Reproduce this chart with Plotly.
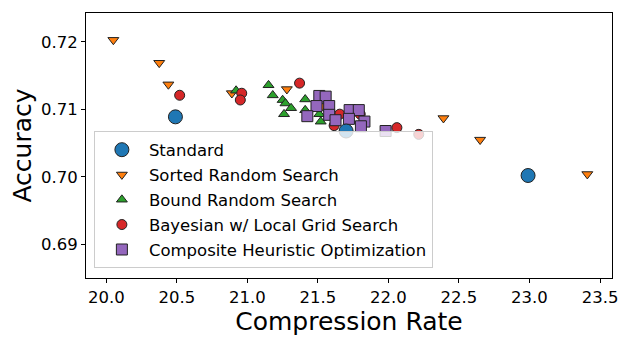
import plotly.graph_objects as go

# Compression rate / accuracy pairs
standard_x = [20.49, 21.70, 22.99]
standard_y = [0.7089, 0.7068, 0.7002]

sorted_x = [20.05, 20.375, 20.44, 20.89, 21.28, 21.53, 22.39, 22.65, 23.41]
sorted_y = [0.7203, 0.7169, 0.7137, 0.7124, 0.7130, 0.7105, 0.7087, 0.7055, 0.7004]

bound_x = [20.92, 21.15, 21.18, 21.25, 21.27, 21.31, 21.26, 21.41, 21.41, 21.51, 21.52]
bound_y = [0.7128, 0.7136, 0.7121, 0.7114, 0.7109, 0.7102, 0.7093, 0.7115, 0.7099, 0.7093, 0.7082]

bayes_x = [20.52, 20.96, 20.95, 21.37, 21.655, 21.615, 21.80, 22.06, 22.215]
bayes_y = [0.7121, 0.7124, 0.7114, 0.7139, 0.7093, 0.7076, 0.7093, 0.7073, 0.7063]

composite_x = [21.51, 21.555, 21.49, 21.58, 21.425, 21.58, 21.625, 21.725, 21.79,
               21.72, 21.83, 21.805, 21.98]
composite_y = [0.7120, 0.7119, 0.7105, 0.7105, 0.7090, 0.7092, 0.7084, 0.7099, 0.7099,
               0.7086, 0.7082, 0.7075, 0.7068]

FONT = 'DejaVu Sans'


def scatter(x, y, name, color, symbol, size, rank):
    # each trace gets its own legend group so tracegroupgap spaces the rows
    return go.Scatter(
        x=x,
        y=y,
        mode='markers',
        name=name,
        legendrank=rank,
        legendgroup=name,
        marker=dict(
            color=color,
            symbol=symbol,
            size=size,
            line=dict(color='#222222', width=1)
        )
    )


fig = go.Figure()
fig.add_trace(scatter(sorted_x, sorted_y, 'Sorted Random Search', '#ff7f0e', 'triangle-down', 9.5, 2))
fig.add_trace(scatter(bound_x, bound_y, 'Bound Random Search', '#2ca02c', 'triangle-up', 9.5, 3))
fig.add_trace(scatter(bayes_x, bayes_y, 'Bayesian w/ Local Grid Search', '#d62728', 'circle', 10, 4))
fig.add_trace(scatter(composite_x, composite_y, 'Composite Heuristic Optimization', '#9467bd', 'square', 11, 5))
fig.add_trace(scatter(standard_x, standard_y, 'Standard', '#1f77b4', 'circle', 14, 1))

axis_style = dict(
    showline=True,
    linecolor='black',
    linewidth=1,
    mirror=True,
    ticks='outside',
    ticklen=4,
    tickcolor='black',
    showgrid=False,
    zeroline=False,
    automargin=False,
    tickfont=dict(family=FONT, size=16.5, color='black'),
)

fig.update_xaxes(
    axis_style,
    range=[19.856, 23.585],
    tickvals=[20.0, 20.5, 21.0, 21.5, 22.0, 22.5, 23.0, 23.5],
    tickformat='.1f',
    title=dict(text='Compression Rate', font=dict(family=FONT, size=25, color='black'), standoff=4),
)
fig.update_yaxes(
    axis_style,
    range=[0.6850, 0.7243],
    tickvals=[0.69, 0.70, 0.71, 0.72],
    tickformat='.2f',
    title=dict(text='Accuracy', font=dict(family=FONT, size=25, color='black'), standoff=6),
)

# the page body adds an 8px margin, so the figure is 8px smaller on each side
fig.update_layout(
    width=621,
    height=337,
    margin=dict(l=78, r=17, t=5, b=67),
    plot_bgcolor='white',
    paper_bgcolor='white',
    font=dict(family=FONT, color='black'),
    legend=dict(
        x=0.015,
        y=0.036,
        xanchor='left',
        yanchor='bottom',
        bgcolor='rgba(255,255,255,0.8)',
        bordercolor='#cccccc',
        borderwidth=1,
        itemwidth=44,
        font=dict(family=FONT, size=16.5, color='black'),
        tracegroupgap=0.5,
    ),
)

fig.write_html('out.html')
